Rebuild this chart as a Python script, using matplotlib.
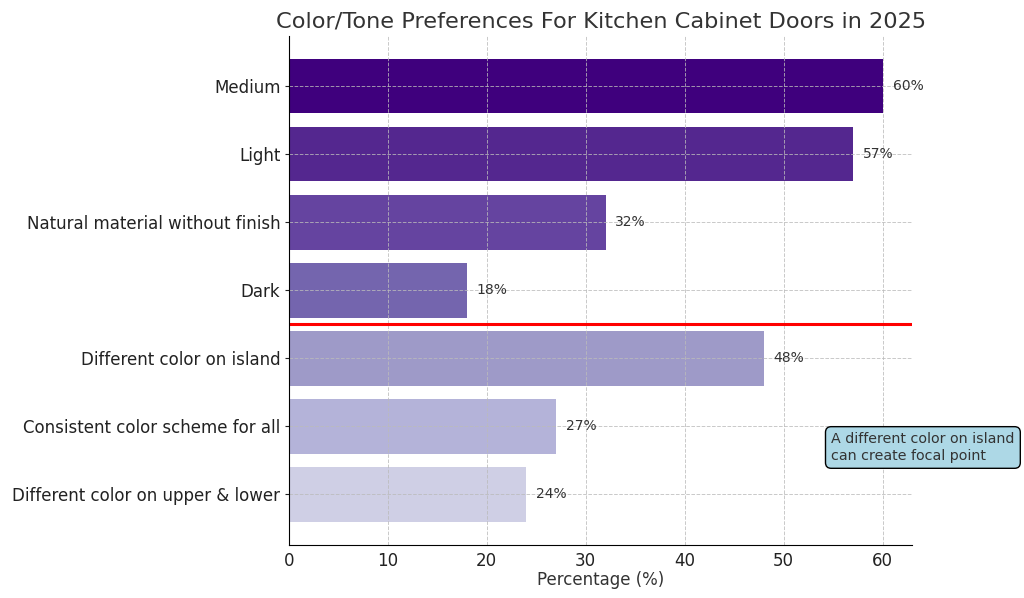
import matplotlib

matplotlib.use("Agg")
import matplotlib.pyplot as plt

categories = [
    "Medium",
    "Light",
    "Natural material without finish",
    "Dark",
    "Different color on island",
    "Consistent color scheme for all",
    "Different color on upper & lower",
]
values = [60, 57, 32, 18, 48, 27, 24]
colors = ["#3f007d", "#54278f", "#6544a0", "#7465ae", "#9e9ac8", "#b4b3d9", "#cfcfe5"]
note = "A different color on island\ncan create focal point"


def main() -> None:
    plt.rcParams["text.color"] = "#333333"
    plt.rcParams["axes.labelcolor"] = "#333333"
    fig, ax = plt.subplots(figsize=(10.24, 5.98), dpi=100)
    y = list(range(len(categories)))
    ax.barh(y, values, color=colors, height=0.8, zorder=1)
    ax.set_yticks(y)
    ax.set_yticklabels(categories, fontsize=12, color="#222222")
    ax.invert_yaxis()
    ax.set_xlim(0, 63)
    ax.tick_params(axis="x", labelsize=12, colors="#222222", length=0, pad=5)
    ax.tick_params(axis="y", colors="#222222", length=3, pad=3)
    for yi, v in zip(y, values):
        ax.text(v + 1, yi, f"{v}%", va="center", ha="left", fontsize=10, color="#333333")
    ax.axhline(3.5, color="red", linewidth=2.2, zorder=3)
    ax.grid(True, linestyle="--", color="#bbbbbb", linewidth=0.7, alpha=0.8, zorder=2)
    ax.set_axisbelow(False)
    ax.spines["top"].set_visible(False)
    ax.spines["right"].set_visible(False)
    for side in ("left", "bottom"):
        ax.spines[side].set_zorder(5)
    ax.set_xlabel("Percentage (%)", fontsize=12, labelpad=1)
    ax.set_title("Color/Tone Preferences For Kitchen Cabinet Doors in 2025", fontsize=16.2, color="#333333")
    ax.text(54.8, 5.31, note, fontsize=10.3, va="center", ha="left", color="#333333",
            bbox=dict(boxstyle="round,pad=0.4", facecolor="lightblue", edgecolor="black"),
            clip_on=False)
    fig.subplots_adjust(left=0.282, right=0.891, top=0.94, bottom=0.089)
    fig.savefig("out.png", dpi=100)
    plt.close(fig)


if __name__ == "__main__":
    main()
